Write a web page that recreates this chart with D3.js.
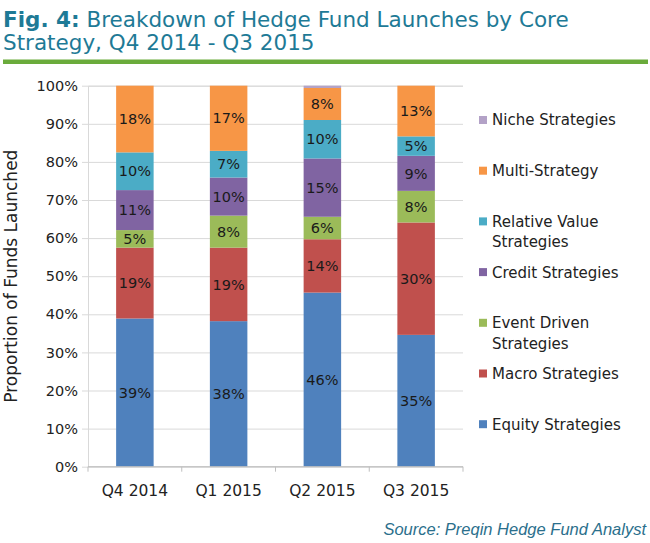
<!DOCTYPE html>
<html>
<head>
<meta charset="utf-8">
<script src="https://cdn.jsdelivr.net/npm/d3@7"></script>
<style>
  body { margin: 0; background: #fff; }
  svg { display: block; }
</style>
</head>
<body>
<div id="chart"></div>
<script>
// Data (percent of funds launched)
const quarters = ["Q4 2014", "Q1 2015", "Q2 2015", "Q3 2015"];
const strategies = ["Equity Strategies", "Macro Strategies", "Event Driven Strategies",
    "Credit Strategies", "Relative Value Strategies", "Multi-Strategy", "Niche Strategies"];
const equity = [38.9, 38.2, 45.7, 34.6];
const macro = [18.6, 19.3, 14.0, 29.5];
const eventDriven = [4.6, 8.4, 5.9, 8.3];
const credit = [10.5, 10.0, 15.3, 9.2];
const relativeValue = [9.9, 7.0, 10.1, 5.1];
const multiStrategy = [17.5, 17.1, 8.4, 13.3];
const niche = [0, 0, 0.6, 0];
const yTicks = [0, 10, 20, 30, 40, 50, 60, 70, 80, 90, 100];

const seriesValues = [equity, macro, eventDriven, credit, relativeValue, multiStrategy, niche];
const colors = ["#4F81BD", "#C0504D", "#9BBB59", "#8064A2", "#4BACC6", "#F79646", "#B3A2C7"];
// legend labels split into lines the way the original wraps them
const legendLines = {
    "Relative Value Strategies": ["Relative Value", "Strategies"],
    "Event Driven Strategies": ["Event Driven", "Strategies"]
};

const W = 650, H = 543;
const font = "'DejaVu Sans', sans-serif";
const margin = {top: 85.7, right: 187, bottom: 76.3, left: 88};
const plotW = W - margin.left - margin.right;
const plotH = H - margin.top - margin.bottom;

const svg = d3.select("#chart").append("svg")
    .attr("width", W)
    .attr("height", H);

svg.append("rect").attr("width", W).attr("height", H).attr("fill", "#fff");

// Title
const title = svg.append("text")
    .attr("x", 3)
    .attr("y", 27)
    .attr("fill", "#1E7A96")
    .style("font-family", font)
    .style("font-size", "21.5px");
title.append("tspan").attr("font-weight", "bold").text("Fig. 4:");
title.append("tspan").text(" Breakdown of Hedge Fund Launches by Core");

svg.append("text")
    .attr("x", 3)
    .attr("y", 50)
    .attr("fill", "#1E7A96")
    .style("font-family", font)
    .style("font-size", "21.5px")
    .text("Strategy, Q4 2014 - Q3 2015");

svg.append("rect")
    .attr("x", 3)
    .attr("y", 59.5)
    .attr("width", 645)
    .attr("height", 4.5)
    .attr("fill", "#6AAB3B");

const g = svg.append("g")
    .attr("transform", `translate(${margin.left},${margin.top})`);

// Scales
const x = d3.scaleBand()
    .domain(quarters)
    .range([0, plotW])
    .paddingInner(0.6)
    .paddingOuter(0.3);

const xBounds = d3.scaleLinear()
    .domain([0, quarters.length])
    .range([0, plotW]);

const y = d3.scaleLinear()
    .domain([0, 100])
    .range([plotH, 0]);

// Gridlines and y axis
const yAxis = d3.axisLeft(y)
    .tickValues(yTicks)
    .tickSize(-plotW)
    .tickPadding(10)
    .tickFormat(d => d + "%");

const yAxisG = g.append("g").call(yAxis);
yAxisG.select(".domain").attr("stroke", "#D9D9D9");
yAxisG.selectAll(".tick line")
    .attr("stroke", "#D9D9D9")
    .attr("x1", -6);
yAxisG.selectAll(".tick text")
    .attr("fill", "#222")
    .style("font-family", font)
    .style("font-size", "14.5px");

// Stacked bars
const table = quarters.map((q, i) => {
    const row = {quarter: q};
    strategies.forEach((s, j) => { row[s] = seriesValues[j][i]; });
    return row;
});

const stacked = d3.stack().keys(strategies)(table);

const layers = g.selectAll(".layer")
    .data(stacked)
    .join("g")
    .attr("class", "layer")
    .attr("fill", (d, i) => colors[i]);

layers.selectAll("rect")
    .data(d => d)
    .join("rect")
    .attr("x", d => x(d.data.quarter))
    .attr("y", d => y(d[1]))
    .attr("width", x.bandwidth())
    .attr("height", d => y(d[0]) - y(d[1]));

// value labels use the raw value of each segment
layers.selectAll("text")
    .data(s => s.map(d => ({seg: d, value: d.data[s.key]})).filter(d => d.value >= 3))
    .join("text")
    .attr("x", d => x(d.seg.data.quarter) + x.bandwidth() / 2)
    .attr("y", d => y((d.seg[0] + d.seg[1]) / 2))
    .attr("dy", "0.36em")
    .attr("text-anchor", "middle")
    .attr("fill", "#1a1a1a")
    .style("font-family", font)
    .style("font-size", "14.5px")
    .text(d => Math.round(d.value) + "%");

// X axis
const xAxisG = g.append("g").attr("transform", `translate(0,${plotH})`);
xAxisG.append("line")
    .attr("x1", 0).attr("x2", plotW)
    .attr("stroke", "#BFBFBF");
xAxisG.selectAll(".xtick")
    .data(d3.range(quarters.length + 1))
    .join("line")
    .attr("class", "xtick")
    .attr("x1", d => xBounds(d)).attr("x2", d => xBounds(d))
    .attr("y1", 0).attr("y2", 5)
    .attr("stroke", "#BFBFBF");
xAxisG.selectAll(".xlabel")
    .data(quarters)
    .join("text")
    .attr("class", "xlabel")
    .attr("x", d => x(d) + x.bandwidth() / 2)
    .attr("y", 24)
    .attr("dy", "0.36em")
    .attr("text-anchor", "middle")
    .attr("fill", "#222")
    .style("font-family", font)
    .style("font-size", "15.5px")
    .text(d => d);

// Y axis title
svg.append("text")
    .attr("transform", `translate(17,${margin.top + plotH / 2}) rotate(-90)`)
    .attr("text-anchor", "middle")
    .attr("fill", "#222")
    .style("font-family", font)
    .style("font-size", "17px")
    .text("Proportion of Funds Launched");

// Legend (top to bottom = reverse of stack order)
const legendOrder = strategies.map((s, i) => ({name: s, color: colors[i]})).reverse();
const legend = svg.append("g").attr("transform", "translate(479,120)");

const items = legend.selectAll(".item")
    .data(legendOrder)
    .join("g")
    .attr("class", "item")
    .attr("transform", (d, i) => `translate(0,${i * 50.7})`);

items.append("rect")
    .attr("x", 0)
    .attr("y", -4)
    .attr("width", 8)
    .attr("height", 8)
    .attr("fill", d => d.color);

items.append("text")
    .attr("fill", "#222")
    .style("font-family", font)
    .style("font-size", "15px")
    .selectAll("tspan")
    .data(d => legendLines[d.name] || [d.name])
    .join("tspan")
    .attr("x", 13)
    .attr("y", (d, i) => i * 20.5)
    .attr("dy", "0.36em")
    .text(d => d);

// Source
svg.append("text")
    .attr("x", 646)
    .attr("y", 535)
    .attr("text-anchor", "end")
    .attr("fill", "#2B6F8C")
    .style("font-family", "'Liberation Sans', Arial, sans-serif")
    .style("font-style", "italic")
    .style("font-size", "16.5px")
    .text("Source: Preqin Hedge Fund Analyst");
</script>
</body>
</html>
